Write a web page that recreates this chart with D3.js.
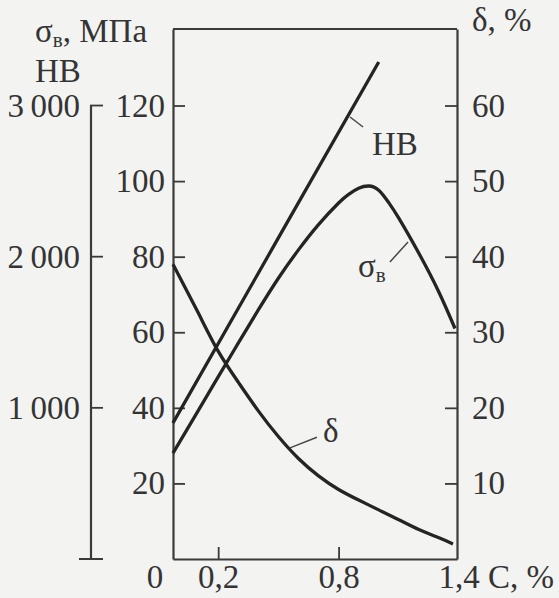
<!DOCTYPE html>
<html>
<head>
<meta charset="utf-8">
<script src="https://cdn.jsdelivr.net/npm/d3@7/dist/d3.min.js"></script>
<style>
  @font-face { font-family: "ChartSerif"; src: local("Liberation Serif"), local("LiberationSerif"), local("LiberationSerif-Regular"); }
  html, body { margin: 0; padding: 0; background: #f3f3f1; }
  svg { display: block; }
</style>
</head>
<body>
<svg id="chart" width="559" height="598"></svg>
<script>
// ---- data ----
const hbC      = [-0.025, 0.5, 1.0];
const hbV      = [900, 2124, 3288];

const sigmaC   = [-0.025, 0.1, 0.2, 0.3, 0.4, 0.5, 0.6, 0.7, 0.8, 0.85, 0.9, 0.95, 1.0, 1.05, 1.1, 1.2, 1.3, 1.38];
const sigmaV   = [28.0, 39.2, 48.2, 57.1, 65.9, 74.3, 81.8, 88.5, 94.2, 96.5, 98.1, 98.7, 97.6, 94.3, 90.2, 80.9, 70.6, 61.0];

const deltaC   = [-0.025, 0.1, 0.2, 0.3, 0.4, 0.5, 0.6, 0.7, 0.8, 0.9, 1.0, 1.1, 1.2, 1.3, 1.37];
const deltaV   = [39.0, 32.6, 27.5, 23.4, 19.6, 16.2, 13.3, 11.0, 9.2, 7.8, 6.5, 5.2, 3.9, 2.8, 2.0];

const xTicks     = [0.2, 0.8];
const xEndTicks  = [0, 1.4];
const sigmaTicks = [20, 40, 60, 80, 100, 120];
const deltaTicks = [10, 20, 30, 40, 50, 60];
const hbTicks    = [1000, 2000, 3000];

(function () {
const fmtC  = d => String(d).replace(".", ",");
const fmtHB = d => d3.format(",")(d).replace(",", "\u2009");

const svg = d3.select("#chart");
const W = 559, H = 598;
const pL = 173, pR = 457, pT = 29, pB = 559;
const FS = 33;
const FONT = "'Liberation Serif'";
const TXT = "#343434";

svg.append("rect").attr("width", W).attr("height", H).attr("fill", "#f3f3f1");

const x   = d3.scaleLinear().domain([-0.025, 1.39]).range([pL, pR]);
const yS  = d3.scaleLinear().domain([0, 140.25]).range([pB, pT]);
const yD  = d3.scaleLinear().domain([0, 140.25 / 2]).range([pB, pT]);
const yHB = d3.scaleLinear().domain([0, 140.25 * 25]).range([pB, pT]);

const axisColor = "#3a3a3a";
function styleAxis(g) {
  g.attr("font-family", null).attr("font-size", null);
  g.selectAll(".domain").attr("stroke", axisColor).attr("stroke-width", 2.2);
  g.selectAll(".tick line").attr("stroke", axisColor).attr("stroke-width", 1.8);
  g.selectAll("text").attr("font-size", FS).attr("fill", TXT).style("font-family", FONT);
}

function txt(xp, yp) {
  return svg.append("text").attr("x", xp).attr("y", yp).attr("font-size", FS)
    .attr("fill", TXT).style("font-family", FONT);
}

// top border
svg.append("line").attr("x1", pL).attr("x2", pR).attr("y1", pT).attr("y2", pT)
  .attr("stroke", axisColor).attr("stroke-width", 2.2);

// sigma axis (left border)
svg.append("g").attr("transform", `translate(${pL},0)`)
  .call(d3.axisLeft(yS).tickValues(sigmaTicks).tickSizeInner(-12).tickSizeOuter(0).tickPadding(8))
  .call(styleAxis);

// delta axis (right border)
svg.append("g").attr("transform", `translate(${pR},0)`)
  .call(d3.axisRight(yD).tickValues(deltaTicks).tickSizeInner(-12).tickSizeOuter(0).tickPadding(15))
  .call(styleAxis);

// x axis (bottom border)
const gx = svg.append("g").attr("transform", `translate(0,${pB})`)
  .call(d3.axisBottom(x).tickValues(xTicks).tickFormat(fmtC).tickSizeInner(-12).tickSizeOuter(0).tickPadding(6))
  .call(styleAxis);
gx.selectAll(".tick text").attr("dy", "0.71em");

// end labels of x axis (no tick marks)
txt(x(xEndTicks[0]) - 23, pB + 29).attr("text-anchor", "middle").text(fmtC(xEndTicks[0]));
txt(x(xEndTicks[1]), pB + 29).attr("text-anchor", "middle").text(fmtC(xEndTicks[1]));
txt(x(xEndTicks[1]) + 29, pB + 29).text("C, %");

// HB axis (separate, far left)
const hbX = 91;
const gHB = svg.append("g");
gHB.append("line").attr("x1", hbX).attr("x2", hbX)
  .attr("y1", yHB(d3.max(hbTicks))).attr("y2", yHB(0))
  .attr("stroke", axisColor).attr("stroke-width", 2.2);
gHB.selectAll("line.t").data(hbTicks).join("line").attr("class", "t")
  .attr("x1", hbX - 1).attr("x2", hbX + 12)
  .attr("y1", d => yHB(d)).attr("y2", d => yHB(d))
  .attr("stroke", axisColor).attr("stroke-width", 1.8);
gHB.append("line").attr("x1", hbX - 12).attr("x2", hbX + 12)
  .attr("y1", yHB(0)).attr("y2", yHB(0))
  .attr("stroke", axisColor).attr("stroke-width", 2);
hbTicks.forEach(d => {
  txt(hbX - 11, yHB(d)).attr("dy", "0.35em").attr("text-anchor", "end").text(fmtHB(d));
});

// axis titles
const t1 = txt(35, 42);
t1.append("tspan").text("σ");
t1.append("tspan").attr("font-size", 21).attr("dy", 5).text("в");
t1.append("tspan").attr("dy", -5).text(", МПа");
txt(35, 82).text("HB");
txt(472, 31).text("δ, %");

// ---- curves ----
const curveColor = "#242424";
function drawSeries(cs, vs, ys) {
  const pts = cs.map((c, i) => [c, vs[i]]);
  svg.append("path").datum(pts)
    .attr("fill", "none").attr("stroke", curveColor).attr("stroke-width", 3.3)
    .attr("stroke-linejoin", "round").attr("stroke-linecap", "butt")
    .attr("d", d3.line().x(d => x(d[0])).y(d => ys(d[1])).curve(d3.curveNatural));
}
drawSeries(hbC, hbV, yHB);
drawSeries(sigmaC, sigmaV, yS);
drawSeries(deltaC, deltaV, yD);

// ---- curve labels with leader lines ----
function leader(c1, v1, c2, v2, ys) {
  svg.append("line").attr("x1", x(c1)).attr("y1", ys(v1)).attr("x2", x(c2)).attr("y2", ys(v2))
    .attr("stroke", "#474747").attr("stroke-width", 1.5);
}
leader(0.857, 2924, 0.922, 2858, yHB);
txt(x(0.966), yHB(2672)).text("HB");

leader(1.146, 83.9, 1.056, 78.6, yS);
const ls = txt(x(0.897), yS(74.6));
ls.append("tspan").text("σ");
ls.append("tspan").attr("font-size", 21).attr("dy", 5).text("в");

leader(0.558, 14.7, 0.692, 16.1, yD);
txt(x(0.722), yD(15.5)).text("δ");
})();
</script>
</body>
</html>
